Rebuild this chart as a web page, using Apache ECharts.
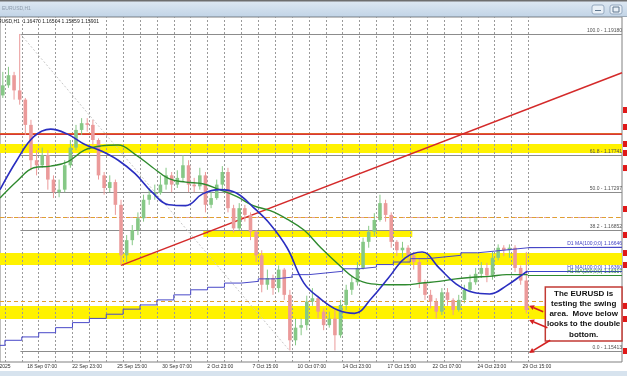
<!DOCTYPE html>
<html>
<head>
<meta charset="utf-8">
<title>EURUSD H1</title>
<script src="https://cdn.jsdelivr.net/npm/echarts@6/dist/echarts.min.js"></script>
<style>
html,body{margin:0;padding:0;background:#ffffff;overflow:hidden;}
#chart{width:627px;height:376px;}
</style>
</head>
<body>
<div id="chart"></div>
<script>
// ---------------- data ----------------
const symbolTitle = 'EURUSD,H1';
const lastBarOHLC = ['1.16470', '1.16504', '1.15859', '1.15901'];
const dateLabels = ['15 Sep 2025', '18 Sep 07:00', '22 Sep 23:00', '25 Sep 15:00', '30 Sep 07:00', '2 Oct 23:00',
  '7 Oct 15:00', '10 Oct 07:00', '14 Oct 23:00', '17 Oct 15:00', '22 Oct 07:00', '24 Oct 23:00', '29 Oct 15:00'];
const dateLabelBars = [-26, 38, 102, 166, 230, 294, 358, 422, 486, 550, 614, 678, 742];
const daySeparatorBars = [7, 31, 55, 79, 103, 127, 151, 175, 199, 223, 247, 271, 295, 319, 343, 367, 391, 415,
  439, 463, 487, 511, 535, 559, 583, 607, 631, 655, 679, 703, 727, 751];

// price candles (each candle = 8 H1 bars)
const firstOpen = 1.1845;
const candleCloses = [1.1857, 1.1869, 1.1851, 1.1840, 1.1810, 1.1768, 1.1762, 1.1774, 1.1745, 1.1730,
  1.1733, 1.1762, 1.1783, 1.1804, 1.1812, 1.1810, 1.1792, 1.1750, 1.1735, 1.1742,
  1.1715, 1.1655, 1.1673, 1.1685, 1.1699, 1.1721, 1.1727, 1.1729, 1.1739, 1.1750,
  1.1739, 1.1747, 1.1762, 1.1739, 1.1737, 1.1750, 1.1715, 1.1723, 1.1739, 1.1754,
  1.1711, 1.1687, 1.1711, 1.1703, 1.1683, 1.1655, 1.1620, 1.1628, 1.1616, 1.1638,
  1.1608, 1.1554, 1.1569, 1.1572, 1.1600, 1.1604, 1.1588, 1.1572, 1.1580, 1.1560,
  1.1596, 1.1614, 1.1623, 1.1640, 1.1671, 1.1683, 1.1697, 1.1717, 1.1703, 1.1671,
  1.1661, 1.1664, 1.1655, 1.1647, 1.1623, 1.1608, 1.1600, 1.1588, 1.1611, 1.1602,
  1.1590, 1.1602, 1.1614, 1.1623, 1.1633, 1.1640, 1.1631, 1.1652, 1.1664, 1.1661,
  1.1664, 1.1640, 1.1625, 1.1590];
const candleHighs = [1.1873, 1.1879, 1.1873, 1.1918, 1.1842, 1.1816, 1.1780, 1.1783, 1.1780, 1.1750,
  1.1745, 1.1768, 1.1792, 1.1810, 1.1818, 1.1818, 1.1816, 1.1794, 1.1754, 1.1750,
  1.1745, 1.1721, 1.1679, 1.1691, 1.1706, 1.1727, 1.1735, 1.1739, 1.1750, 1.1759,
  1.1754, 1.1756, 1.1774, 1.1768, 1.1747, 1.1759, 1.1754, 1.1730, 1.1745, 1.1761,
  1.1759, 1.1715, 1.1717, 1.1715, 1.1706, 1.1685, 1.1661, 1.1638, 1.1632, 1.1643,
  1.1640, 1.1614, 1.1580, 1.1580, 1.1607, 1.1616, 1.1607, 1.1592, 1.1588, 1.1590,
  1.1602, 1.1620, 1.1630, 1.1647, 1.1676, 1.1690, 1.1705, 1.1727, 1.1721, 1.1706,
  1.1673, 1.1671, 1.1667, 1.1659, 1.1652, 1.1626, 1.1614, 1.1604, 1.1616, 1.1616,
  1.1604, 1.1608, 1.1620, 1.1632, 1.1640, 1.1647, 1.1646, 1.1659, 1.1668, 1.1667,
  1.1668, 1.1667, 1.1643, 1.1659];
const candleLows = [1.1842, 1.1854, 1.1840, 1.1834, 1.1798, 1.1756, 1.1750, 1.1759, 1.1733, 1.1723,
  1.1724, 1.1730, 1.1759, 1.1780, 1.1798, 1.1802, 1.1786, 1.1745, 1.1727, 1.1730,
  1.1703, 1.1643, 1.1647, 1.1667, 1.1679, 1.1695, 1.1715, 1.1721, 1.1727, 1.1733,
  1.1730, 1.1735, 1.1742, 1.1730, 1.1730, 1.1733, 1.1706, 1.1711, 1.1721, 1.1733,
  1.1706, 1.1682, 1.1685, 1.1695, 1.1673, 1.1647, 1.1611, 1.1614, 1.1608, 1.1611,
  1.1602, 1.1542, 1.1548, 1.1560, 1.1566, 1.1595, 1.1580, 1.1566, 1.1569, 1.1542,
  1.1557, 1.1590, 1.1608, 1.1619, 1.1638, 1.1664, 1.1678, 1.1695, 1.1695, 1.1664,
  1.1654, 1.1652, 1.1647, 1.1638, 1.1616, 1.1602, 1.1592, 1.1580, 1.1584, 1.1595,
  1.1584, 1.1588, 1.1598, 1.1611, 1.1620, 1.1628, 1.1623, 1.1626, 1.1649, 1.1654,
  1.1652, 1.1635, 1.1620, 1.1586];

// moving averages
const maBars = [0, 24, 48, 72, 96, 120, 144, 168, 192, 216, 240, 264, 288, 312, 336, 360, 384, 408,
  432, 456, 480, 504, 528, 552, 576, 600, 624, 648, 672, 696, 720, 744, 750];
const h1Ma100 = [1.1733, 1.1768, 1.1796, 1.1805, 1.1799, 1.1787, 1.1779, 1.1768, 1.1752, 1.1730,
  1.1715, 1.1714, 1.1728, 1.1733, 1.1729, 1.1712, 1.1692, 1.1664, 1.1622, 1.1603,
  1.1590, 1.1586, 1.1604, 1.1628, 1.1652, 1.1659, 1.1640, 1.1621, 1.1611, 1.1609,
  1.1619, 1.1633, 1.1636];
const h1Ma200 = [1.1723, 1.1743, 1.1759, 1.1761, 1.1766, 1.1780, 1.1785, 1.1786, 1.1775, 1.1760,
  1.1746, 1.1742, 1.1740, 1.1733, 1.1725, 1.1714, 1.1708, 1.1698, 1.1685, 1.1664,
  1.1645, 1.1628, 1.1621, 1.1620, 1.1620, 1.1622, 1.1624, 1.1627, 1.1629, 1.1630,
  1.1632, 1.1632, 1.1632];
const d1StepBars = [0, 7, 31, 55, 79, 103, 127, 151, 175, 199, 223, 247, 271, 295, 319, 343, 367, 391,
  415, 439, 463, 487, 511, 535, 559, 583, 607, 631, 655, 679, 703, 727, 751, 884];
const d1Ma100 = [1.1548, 1.1554, 1.1558, 1.1563, 1.1569, 1.1575, 1.1580, 1.1585, 1.1591, 1.1596,
  1.1602, 1.1608, 1.1614, 1.1617, 1.1622, 1.1624, 1.1627, 1.1629, 1.1632, 1.1634,
  1.1636, 1.1639, 1.1641, 1.1644, 1.1647, 1.1651, 1.1653, 1.1655, 1.1658, 1.1660,
  1.1662, 1.1664, 1.16646, 1.16646];
const maLabelTexts = ['D1 MA(100;0;0) 1.16646', 'H1 MA(100;0;0) 1.16360', 'H1 MA(200;0;0) 1.16317'];
const maLastValues = [1.16646, 1.16360, 1.16317];

// fibonacci retracement
const fibNames = ['100.0', '61.8', '50.0', '38.2', '0.0'];
const fibPrices = [1.19180, 1.17741, 1.17297, 1.16852, 1.15413];
const fibHighBar = 29, fibLowBar = 412;

// drawn objects
const trendLine = [[172, 1.1643], [884, 1.1872]];
const redLevel = 1.18277;
const pinkLevels = [1.18075, 1.17587, 1.17100, 1.16791];
const bandA = [1.17873, 1.17766];
const bandB = [1.16577, 1.16435];
const bandC = [1.15948, 1.15793];
const bandD = [1.16839, 1.16768];
const bandDBars = [289, 586];
const noteLines = ['The EURUSD is', 'testing the swing', 'area.  Move below', 'looks to the double', 'bottom.'];

// ---------------- chart ----------------
const X_MAX = 884, Y_MIN = 1.15282, Y_MAX = 1.19382;
const FONT = 'Liberation Sans, Arial, sans-serif';
const chart = echarts.init(document.getElementById('chart'), null, {renderer: 'canvas'});

const candleData = candleCloses.map((c, i) => [i * 8 + 4, i === 0 ? firstOpen : candleCloses[i - 1], c, candleLows[i], candleHighs[i]]);

function seg(a, b, style, label) {
  const p = {coord: a, lineStyle: style};
  if (label) p.label = label;
  return [p, {coord: b}];
}
const fibLabel = (t) => ({show: true, position: 'insideEndTop', formatter: t, fontSize: 5, fontFamily: FONT, color: '#505050', distance: [0, 1], padding: 0});

const hostLines = [];
daySeparatorBars.forEach(b => hostLines.push({xAxis: b, lineStyle: {color: '#9a9a9a', width: 1, type: [2, 2]}}));
pinkLevels.forEach(v => hostLines.push({yAxis: v, lineStyle: {color: '#e0a0a0', width: 1, type: [5, 3]}}));
hostLines.push({yAxis: redLevel, lineStyle: {color: '#d42a2a', width: 1.5, type: 'solid'}});
hostLines.push({yAxis: bandA[0], lineStyle: {color: '#d42a2a', width: 1.5, type: 'solid'}});
hostLines.push({yAxis: bandA[1], lineStyle: {color: '#e0602a', width: 1.2, type: 'solid'}});
[bandB, bandC].forEach(bd => bd.forEach(v => hostLines.push({yAxis: v, lineStyle: {color: '#e0a030', width: 1, type: [4, 3]}})));
hostLines.push({yAxis: fibPrices[4], lineStyle: {color: '#d04040', width: 1, type: [6, 4]}});
fibPrices.forEach((p, i) => hostLines.push(seg([fibHighBar, p], [X_MAX, p], {color: '#8c8c8c', width: 1, type: 'solid'}, fibLabel(fibNames[i] + ' - ' + p.toFixed(5)))));
hostLines.push(seg([fibHighBar, fibPrices[0]], [fibLowBar, fibPrices[4]], {color: '#c8c8c8', width: 1, type: [2, 2]}));
hostLines.push(seg(trendLine[0], trendLine[1], {color: '#d42a2a', width: 1.5, type: 'solid'}));
const maColors = ['#4040c4', '#3a44c8', '#2f8a2f'];
const maStartBars = [751, 750, 750];
maLastValues.forEach((v, i) => hostLines.push(seg([maStartBars[i], v], [X_MAX, v], {color: maColors[i], width: 1, type: 'solid'},
  {show: true, position: 'insideEndTop', formatter: maLabelTexts[i], fontSize: 5, fontFamily: FONT, color: maColors[i], distance: [0, 1], padding: 0})));

const option = {
  animation: false,
  backgroundColor: '#ffffff',
  grid: {left: 0, right: 5, top: 17, bottom: 14, show: true, borderColor: '#808080', borderWidth: 1, backgroundColor: '#ffffff'},
  xAxis: {type: 'value', min: 0, max: X_MAX, show: false},
  yAxis: {type: 'value', min: Y_MIN, max: Y_MAX, show: false, scale: true},
  series: [
    {
      type: 'line', data: [[0, Y_MIN]], symbol: 'none', lineStyle: {opacity: 0}, silent: true, z: 1,
      markArea: {
        silent: true, z: 1,
        data: [
          [{yAxis: bandA[0], itemStyle: {color: '#fff200'}}, {yAxis: bandA[1]}],
          [{yAxis: bandB[0], itemStyle: {color: '#fff200'}}, {yAxis: bandB[1]}],
          [{yAxis: bandC[0], itemStyle: {color: '#fff200'}}, {yAxis: bandC[1]}],
          [{coord: [bandDBars[0], bandD[0]], itemStyle: {color: '#fff200'}}, {coord: [bandDBars[1], bandD[1]]}]
        ]
      },
      markLine: {silent: true, z: 2, symbol: 'none', label: {show: false}, data: hostLines}
    },
    {
      type: 'custom', z: 3, silent: true, data: candleData, clip: true,
      encode: {x: 0, y: [1, 2, 3, 4]},
      renderItem: function (params, api) {
        const x = api.value(0), o = api.value(1), c = api.value(2), l = api.value(3), h = api.value(4);
        const pO = api.coord([x, o]), pC = api.coord([x, c]), pL = api.coord([x, l]), pH = api.coord([x, h]);
        const color = c >= o ? '#86c886' : '#eb9a9a';
        const w = 3.6;
        return {
          type: 'group', children: [
            {type: 'line', shape: {x1: pH[0], y1: pH[1], x2: pL[0], y2: pL[1]}, style: {stroke: color, lineWidth: 1}},
            {type: 'rect', shape: {x: pO[0] - w / 2, y: Math.min(pO[1], pC[1]), width: w, height: Math.max(1, Math.abs(pO[1] - pC[1]))}, style: {fill: color}}
          ]
        };
      }
    },
    {type: 'line', name: 'D1 MA(100)', step: 'end', data: d1StepBars.map((b, i) => [b, d1Ma100[i]]), symbol: 'none', z: 4, silent: true,
      lineStyle: {color: '#4848c8', width: 1}},
    {type: 'line', name: 'H1 MA(200)', smooth: 0.4, data: maBars.map((b, i) => [b, h1Ma200[i]]), symbol: 'none', z: 4, silent: true,
      lineStyle: {color: '#2f8a2f', width: 1.4}},
    {type: 'line', name: 'H1 MA(100)', smooth: 0.4, data: maBars.map((b, i) => [b, h1Ma100[i]]), symbol: 'none', z: 5, silent: true,
      lineStyle: {color: '#2a2ec0', width: 1.6}}
  ]
};
chart.setOption(option);

// ---------------- annotations ----------------
const px = (x, y) => chart.convertToPixel({xAxisIndex: 0, yAxisIndex: 0}, [x, y]);
const g = [];
// title bar
g.push({type: 'rect', shape: {x: 0, y: 0, width: 627, height: 16}, z: 100,
  style: {fill: new echarts.graphic.LinearGradient(0, 0, 0, 1, [{offset: 0, color: '#dfe9f3'}, {offset: 1, color: '#c3d5e7'}])}});
g.push({type: 'rect', shape: {x: 0, y: 0, width: 627, height: 1.5}, z: 101, style: {fill: '#6e6e6e'}});
g.push({type: 'rect', shape: {x: 0, y: 16, width: 627, height: 1}, z: 101, style: {fill: '#9aa8b6'}});
g.push({type: 'text', x: 2, y: 9, z: 102, style: {text: symbolTitle, font: '5px ' + FONT, fill: '#8d9bab', verticalAlign: 'middle'}});
g.push({type: 'rect', shape: {x: 592, y: 5, width: 12, height: 9, r: 2}, z: 102, style: {fill: '#e9f0f7', stroke: '#95a9bf', lineWidth: 1}});
g.push({type: 'rect', shape: {x: 595, y: 10, width: 6, height: 1}, z: 103, style: {fill: '#607890'}});
g.push({type: 'rect', shape: {x: 610, y: 5, width: 12, height: 9, r: 2}, z: 102, style: {fill: '#e9f0f7', stroke: '#95a9bf', lineWidth: 1}});
g.push({type: 'rect', shape: {x: 613, y: 7, width: 6, height: 5}, z: 103, style: {fill: 'none', stroke: '#607890', lineWidth: 1}});
// header text
g.push({type: 'text', x: -9, y: 22, z: 102, style: {text: symbolTitle + '  ' + lastBarOHLC.join(' '), font: '5px ' + FONT, fill: '#222', verticalAlign: 'middle'}});
// bottom strip
g.push({type: 'rect', shape: {x: 0, y: 371, width: 627, height: 5}, z: 100, style: {fill: '#d7e3ee'}});
// date labels
dateLabels.forEach((t, i) => {
  const p = px(dateLabelBars[i], Y_MIN);
  g.push({type: 'text', x: p[0] + 0.5, y: 367, z: 102, style: {text: t, font: '5px ' + FONT, fill: '#303030', verticalAlign: 'middle'}});
});
// red markers for horizontal line objects on the price axis
[redLevel, pinkLevels[0], bandA[0], bandA[1], pinkLevels[1], pinkLevels[2], pinkLevels[3], bandB[0], bandB[1], bandC[0], bandC[1], fibPrices[4]].forEach(v => {
  const p = px(X_MAX, v);
  g.push({type: 'rect', shape: {x: p[0] + 1, y: p[1] - 3, width: 5, height: 6}, z: 102, style: {fill: '#e01818'}});
});
// note box
const b1 = px(775, 1.16173), b2 = px(X_MAX, 1.15532);
g.push({type: 'rect', shape: {x: b1[0], y: b1[1], width: b2[0] - b1[0], height: b2[1] - b1[1]}, z: 110,
  style: {fill: '#ffffff', stroke: '#c23a34', lineWidth: 1.5}});
g.push({type: 'text', x: (b1[0] + b2[0]) / 2, y: (b1[1] + b2[1]) / 2, z: 111,
  style: {text: noteLines.join('\n'), font: 'bold 8px ' + FONT, fill: '#111', align: 'center', verticalAlign: 'middle', lineHeight: 10.2}});
// arrows
const arrows = [[[772, 1.1588], [752, 1.1595]], [[778, 1.1569], [752, 1.1578]], [[782, 1.1554], [752, 1.1539]]];
arrows.forEach(a => {
  const s = px(a[0][0], a[0][1]), e = px(a[1][0], a[1][1]);
  const ang = Math.atan2(e[1] - s[1], e[0] - s[0]);
  const L = 5, W = 2.6;
  const bx = e[0] - L * Math.cos(ang), by = e[1] - L * Math.sin(ang);
  g.push({type: 'line', shape: {x1: s[0], y1: s[1], x2: bx, y2: by}, z: 112, style: {stroke: '#d42020', lineWidth: 1.6}});
  g.push({type: 'polygon', shape: {points: [[e[0], e[1]], [bx - W * Math.sin(ang), by + W * Math.cos(ang)], [bx + W * Math.sin(ang), by - W * Math.cos(ang)]]},
    z: 112, style: {fill: '#d42020'}});
});
chart.setOption({graphic: {elements: g}});
</script>
</body>
</html>
